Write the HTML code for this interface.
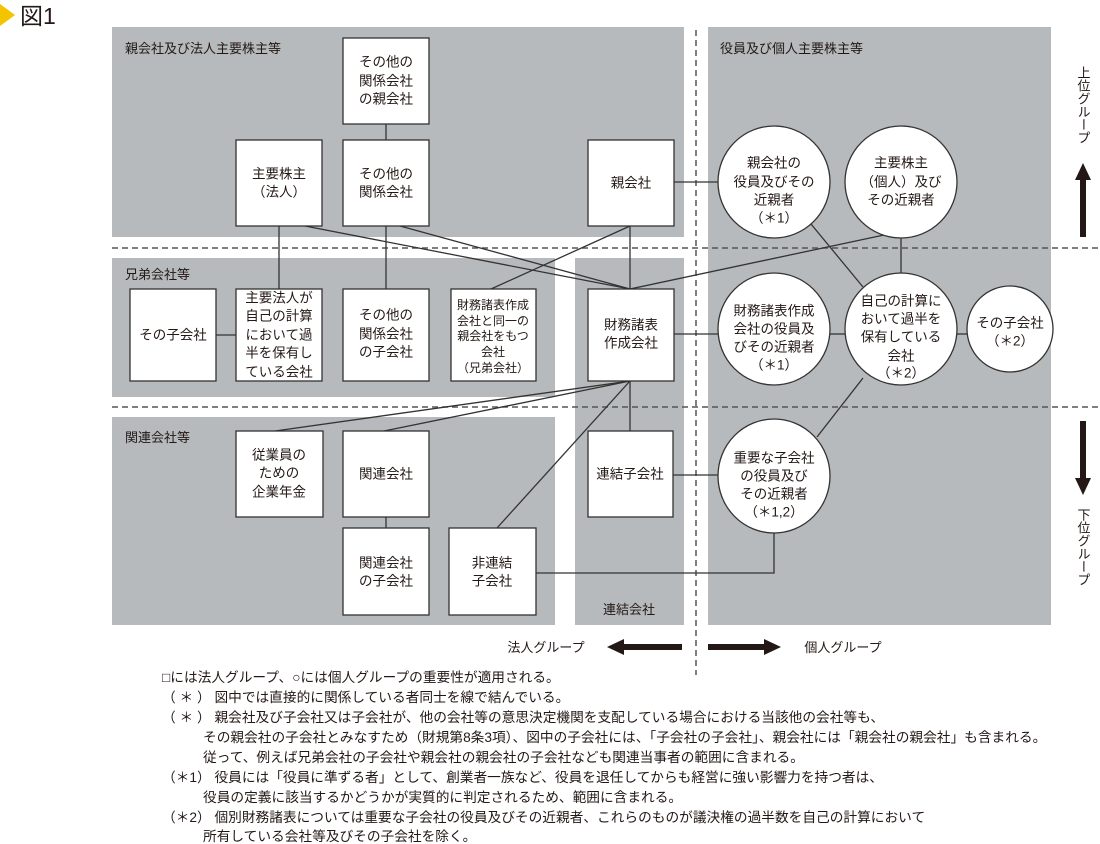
<!DOCTYPE html>
<html><head><meta charset="utf-8"><style>
html,body{margin:0;padding:0;background:#fff;}
svg{display:block;font-family:"Liberation Sans","Noto Sans CJK JP",sans-serif;}
text{fill:#231815;}
</style></head><body>
<svg width="1100" height="844" viewBox="0 0 1100 844" xmlns="http://www.w3.org/2000/svg">
<polygon points="0,4 15,15 0,26" fill="#f5c400"/>
<text x="20" y="24" font-size="23">図1</text>
<g fill="#b6babc">
<rect x="112" y="27" width="572" height="210"/>
<rect x="112" y="258" width="443" height="139"/>
<rect x="112" y="417" width="443" height="208"/>
<rect x="575" y="258" width="109" height="367"/>
<rect x="708" y="27" width="343" height="598"/>
</g>
<g stroke="#555" stroke-width="1.5" stroke-dasharray="6,4" fill="none">
<line x1="112" y1="248" x2="1100" y2="248"/>
<line x1="112" y1="407" x2="1100" y2="407"/>
<line x1="696" y1="30" x2="696" y2="675"/>
</g>
<g font-size="13">
<text x="125" y="53">親会社及び法人主要株主等</text>
<text x="125" y="279">兄弟会社等</text>
<text x="125" y="442">関連会社等</text>
<text x="720" y="53">役員及び個人主要株主等</text>
<text x="629" y="614" text-anchor="middle">連結会社</text>
</g>
<g stroke="#333" stroke-width="1.3" fill="none">
<line x1="386" y1="124" x2="386" y2="140"/>
<line x1="386" y1="226" x2="386" y2="289"/>
<line x1="279" y1="226" x2="279" y2="289"/>
<line x1="216" y1="335" x2="236" y2="335"/>
<line x1="305" y1="226" x2="630" y2="289"/>
<line x1="400" y1="226" x2="630" y2="289"/>
<line x1="491" y1="289" x2="630" y2="226"/>
<line x1="630" y1="226" x2="630" y2="289"/>
<line x1="674" y1="182" x2="718" y2="182"/>
<line x1="884" y1="235" x2="630" y2="289"/>
<line x1="901" y1="238" x2="901" y2="273"/>
<line x1="811" y1="224" x2="863" y2="287"/>
<line x1="674" y1="334" x2="718" y2="334"/>
<line x1="830" y1="334" x2="845" y2="334"/>
<line x1="957" y1="334" x2="967" y2="334"/>
<line x1="630" y1="381" x2="275" y2="431"/>
<line x1="630" y1="381" x2="384" y2="431"/>
<line x1="630" y1="381" x2="497" y2="528"/>
<line x1="630" y1="381" x2="630" y2="431"/>
<line x1="386" y1="517" x2="386" y2="528"/>
<line x1="673" y1="475" x2="719" y2="475"/>
<line x1="863" y1="378" x2="817" y2="437"/>
<polyline points="774,533 774,573 536,573"/>
</g>
<g fill="#fff" stroke="#333" stroke-width="1.3">
<rect x="343" y="38" width="86" height="86"/>
<rect x="236" y="140" width="86" height="86"/>
<rect x="343" y="140" width="86" height="86"/>
<rect x="130" y="289" width="86" height="92"/>
<rect x="236" y="289" width="86" height="92"/>
<rect x="343" y="289" width="86" height="92"/>
<rect x="451" y="289" width="85" height="92"/>
<rect x="588" y="140" width="86" height="86"/>
<rect x="588" y="289" width="86" height="92"/>
<rect x="236" y="431" width="87" height="86"/>
<rect x="343" y="431" width="86" height="86"/>
<rect x="343" y="528" width="86" height="87"/>
<rect x="449" y="528" width="87" height="87"/>
<rect x="588" y="431" width="85" height="86"/>
<circle cx="774" cy="182" r="56"/>
<circle cx="901" cy="182" r="56"/>
<circle cx="774" cy="329" r="56"/>
<circle cx="901" cy="329" r="56"/>
<circle cx="1010" cy="329" r="43"/>
<ellipse cx="774" cy="476" rx="56" ry="57"/>
</g>
<g font-size="13.5" text-anchor="middle" dominant-baseline="central">
<text x="386" y="62">その他の</text><text x="386" y="81">関係会社</text><text x="386" y="99">の親会社</text>
<text x="279" y="174">主要株主</text><text x="279" y="192">（法人）</text>
<text x="386" y="174">その他の</text><text x="386" y="192">関係会社</text>
<text x="173" y="335">その子会社</text>
<text x="279" y="298">主要法人が</text><text x="279" y="316">自己の計算</text><text x="279" y="335">において過</text><text x="279" y="353">半を保有し</text><text x="279" y="372">ている会社</text>
<text x="386" y="315">その他の</text><text x="386" y="334">関係会社</text><text x="386" y="352">の子会社</text>
<text x="631" y="183">親会社</text>
<text x="631" y="325">財務諸表</text><text x="631" y="343">作成会社</text>
<text x="279" y="455">従業員の</text><text x="279" y="473">ための</text><text x="279" y="492">企業年金</text>
<text x="386" y="474">関連会社</text>
<text x="386" y="563">関連会社</text><text x="386" y="581">の子会社</text>
<text x="492" y="563">非連結</text><text x="492" y="581">子会社</text>
<text x="630" y="474">連結子会社</text>
<text x="774" y="163">親会社の</text><text x="774" y="182">役員及びその</text><text x="774" y="200">近親者</text><text x="774" y="218">（＊1）</text>
<text x="901" y="163">主要株主</text><text x="901" y="182">（個人）及び</text><text x="901" y="200">その近親者</text>
<text x="774" y="311">財務諸表作成</text><text x="774" y="329">会社の役員及</text><text x="774" y="347">びその近親者</text><text x="774" y="365">（＊1）</text>
<text x="901" y="301">自己の計算に</text><text x="901" y="319">おいて過半を</text><text x="901" y="337">保有している</text><text x="901" y="356">会社</text><text x="901" y="373">（＊2）</text>
<text x="1010" y="323">その子会社</text><text x="1010" y="341">（＊2）</text>
<text x="774" y="458">重要な子会社</text><text x="774" y="476">の役員及び</text><text x="774" y="494">その近親者</text><text x="774" y="512">（＊1,2）</text>
</g>
<g font-size="12" text-anchor="middle" dominant-baseline="central">
<text x="493" y="305">財務諸表作成</text><text x="493" y="321">会社と同一の</text><text x="493" y="336">親会社をもつ</text><text x="493" y="352">会社</text><text x="493" y="368">（兄弟会社）</text>
</g>
<g font-size="13">
<text x="1083" y="66" style="writing-mode:vertical-rl;glyph-orientation-vertical:0">上位グループ</text>
<text x="1083" y="508" style="writing-mode:vertical-rl;glyph-orientation-vertical:0">下位グループ</text>
</g>
<g font-size="13" text-anchor="middle">
<text x="546" y="652">法人グループ</text>
<text x="843" y="652">個人グループ</text>
</g>
<g fill="#231815">
<rect x="1080" y="178" width="6" height="59"/><polygon points="1075,180 1083,163 1091,180"/>
<rect x="1080" y="421" width="6" height="59"/><polygon points="1075,478 1083,495 1091,478"/>
<rect x="622" y="644" width="60" height="6"/><polygon points="624,639 607,647 624,655"/>
<rect x="708" y="644" width="58" height="6"/><polygon points="764,639 781,647 764,655"/>
</g>
<g font-size="13.7">
<text x="162" y="682">□には法人グループ、○には個人グループの重要性が適用される。</text>
<text x="162" y="702">（ ＊ ） 図中では直接的に関係している者同士を線で結んでいる。</text>
<text x="162" y="722">（ ＊ ） 親会社及び子会社又は子会社が、他の会社等の意思決定機関を支配している場合における当該他の会社等も、</text>
<text x="203" y="742">その親会社の子会社とみなすため（財規第8条3項）、図中の子会社には、「子会社の子会社」、親会社には「親会社の親会社」も含まれる。</text>
<text x="203" y="762">従って、例えば兄弟会社の子会社や親会社の親会社の子会社なども関連当事者の範囲に含まれる。</text>
<text x="162" y="782">（＊1） 役員には「役員に準ずる者」として、創業者一族など、役員を退任してからも経営に強い影響力を持つ者は、</text>
<text x="203" y="802">役員の定義に該当するかどうかが実質的に判定されるため、範囲に含まれる。</text>
<text x="162" y="822">（＊2） 個別財務諸表については重要な子会社の役員及びその近親者、これらのものが議決権の過半数を自己の計算において</text>
<text x="203" y="841">所有している会社等及びその子会社を除く。</text>
</g>
</svg>
</body></html>
